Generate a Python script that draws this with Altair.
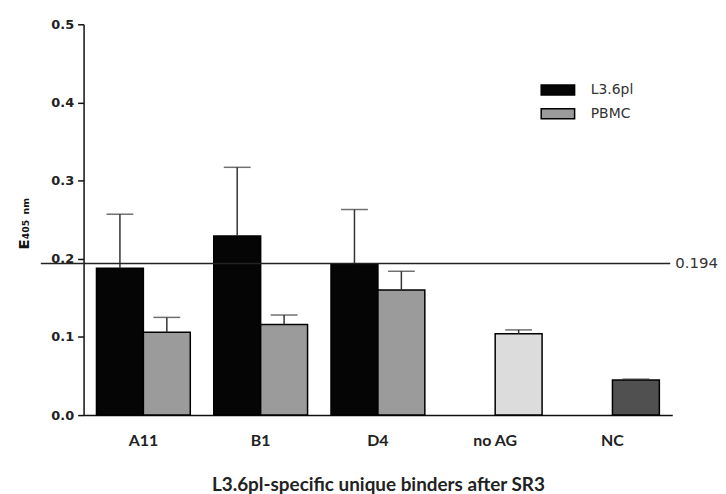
import altair as alt
import pandas as pd

categories = ["A11", "B1", "D4", "no AG", "NC"]
slots = ["L3.6pl", "PBMC"]
l36_mean = [0.188, 0.229, 0.193]
l36_upper = [0.257, 0.317, 0.263]
pbmc_mean = [0.106, 0.116, 0.160]
pbmc_upper = [0.125, 0.128, 0.184]
ctrl_names = ["no AG", "NC"]
ctrl_mean = [0.104, 0.045]
ctrl_upper = [0.109, 0.046]
series_names = ["L3.6pl", "PBMC", "no AG", "NC"]
series_colors = ["#050505", "#9b9b9b", "#dcdcdc", "#505050"]
threshold = [0.194]
threshold_label = ["0.194"]
y_ticks = [0.0, 0.05, 0.1, 0.15, 0.2, 0.25, 0.3, 0.35, 0.4, 0.45, 0.5]
x_title = "L3.6pl-specific unique binders after SR3"
y_title = "E\u2084\u2080\u2085 \u2099\u2098"

rows = []
for c, m, u in zip(categories[:3], l36_mean, l36_upper):
    rows.append(dict(cat=c, slot="L3.6pl", series="L3.6pl", mean=m, upper=u))
for c, m, u in zip(categories[:3], pbmc_mean, pbmc_upper):
    rows.append(dict(cat=c, slot="PBMC", series="PBMC", mean=m, upper=u))
for c, m, u in zip(ctrl_names, ctrl_mean, ctrl_upper):
    rows.append(dict(cat=c, slot="PBMC", series=c, mean=m, upper=u))
df = pd.DataFrame(rows)

yscale = alt.Scale(domain=[0, 0.5], nice=False, zero=True)

base = alt.Chart(df).encode(
    x=alt.X(
        "cat:N",
        sort=categories,
        scale=alt.Scale(domain=categories, paddingInner=0.2, paddingOuter=0.11),
        axis=alt.Axis(
            title=x_title,
            labelAngle=0,
            labelFont="Lato",
            labelFontWeight="bold",
            labelFontSize=16,
            labelColor="#222",
            labelPadding=18,
            ticks=False,
            domainColor="#111",
            domainWidth=1.5,
            titleFont="Lato",
            titleFontWeight="bold",
            titleFontSize=19,
            titleColor="#222",
            titlePadding=27,
        ),
    ),
    xOffset=alt.XOffset(
        "slot:N", scale=alt.Scale(domain=slots, paddingInner=0, paddingOuter=0)
    ),
)

bars = base.mark_bar(stroke="black", strokeWidth=1.5).encode(
    y=alt.Y(
        "mean:Q",
        scale=yscale,
        axis=alt.Axis(
            title=y_title,
            titleFont="DejaVu Sans",
            titleFontWeight="bold",
            titleFontSize=15,
            titleColor="#111",
            titleAngle=270,
            titleAlign="center",
            titleBaseline="middle",
            titleX=-60,
            titleY=200,
            values=y_ticks,
            labelExpr="(round(datum.value*100) % 10 == 0) ? format(datum.value, '.1f') : ''",
            tickSize=6,
            tickColor="#111",
            tickWidth=1.5,
            domainColor="#111",
            domainWidth=1.5,
            grid=False,
            labelFont="DejaVu Sans",
            labelFontWeight="bold",
            labelFontSize=13,
            labelColor="#222",
            labelPadding=4,
        ),
    ),
    color=alt.Color(
        "series:N",
        scale=alt.Scale(domain=series_names, range=series_colors),
        legend=alt.Legend(
            title=None,
            values=["L3.6pl", "PBMC"],
            orient="none",
            legendX=462,
            legendY=51,
            padding=0,
            symbolType="M-1.2,-0.36H1.2V0.36H-1.2Z",
            symbolSize=784,
            symbolStrokeColor="black",
            symbolStrokeWidth=1.5,
            symbolOpacity=1,
            labelFont="DejaVu Sans",
            labelFontSize=14,
            labelColor="#333",
            labelOffset=18,
            rowPadding=0,
        ),
    ),
)

err = base.mark_rule(color="#333", strokeWidth=1.5).encode(
    y=alt.Y("mean:Q", scale=yscale), y2="upper:Q"
)
caps = base.mark_tick(color="#333", thickness=1.5, size=27).encode(
    y=alt.Y("upper:Q", scale=yscale)
)

tdf = pd.DataFrame({"v": threshold, "lbl": threshold_label})
thr_rule = alt.Chart(tdf).mark_rule(color="#222", strokeWidth=1.5).encode(
    y=alt.Y("v:Q", scale=yscale), x=alt.value(-43), x2=alt.value(590)
)
thr_text = alt.Chart(tdf).mark_text(
    align="left", baseline="middle", font="DejaVu Sans", fontSize=15, color="#333"
).encode(y=alt.Y("v:Q", scale=yscale), x=alt.value(595), text="lbl:N")

chart = (
    alt.layer(bars, err, caps, thr_rule, thr_text)
    .properties(width=592, height=393, padding={"left": 9, "top": 9, "right": 0, "bottom": 0})
    .configure_view(stroke=None)
)

chart.save("out.html", embed_options={"renderer": "svg", "actions": False})
